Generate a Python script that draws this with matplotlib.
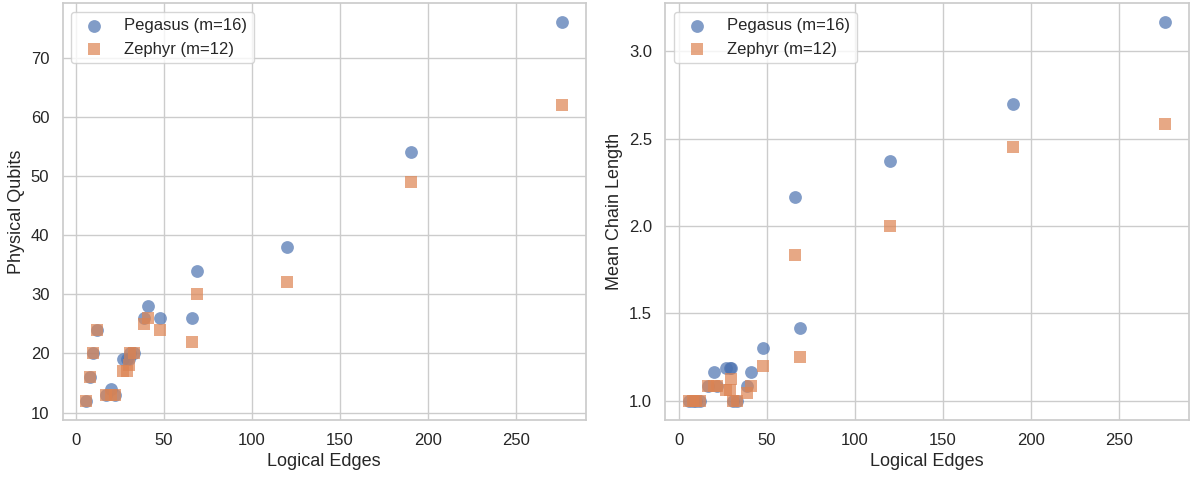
import numpy as np
import matplotlib.pyplot as plt
import seaborn as sns

sns.set_theme(style="whitegrid")
plt.rcParams['font.family'] = ['Liberation Sans', 'DejaVu Sans']

# logical graphs: edges, nodes
edges = [6, 8, 10, 12, 17, 20, 22, 27, 29, 30, 31, 33, 39, 41, 48, 66, 69, 120, 190, 276]
nodes = [12, 16, 20, 24, 12, 12, 12, 16, 16, 16, 20, 20, 24, 24, 20, 12, 24, 16, 20, 24]

# physical qubits after embedding
pegasus_qubits = [12, 16, 20, 24, 13, 14, 13, 19, 19, 19, 20, 20, 26, 28, 26, 26, 34, 38, 54, 76]
zephyr_qubits = [12, 16, 20, 24, 13, 13, 13, 17, 17, 18, 20, 20, 25, 26, 24, 22, 30, 32, 49, 62]

edges = np.array(edges)
nodes = np.array(nodes)
peg = np.array(pegasus_qubits)
zep = np.array(zephyr_qubits)

pal = sns.color_palette()
fig, (ax1, ax2) = plt.subplots(1, 2, figsize=(12.03, 4.79), dpi=100)

ax1.scatter(edges, peg, s=85, marker='o', color=pal[0], alpha=0.7, label='Pegasus (m=16)', linewidths=0)
ax1.scatter(edges, zep, s=85, marker='s', color=pal[1], alpha=0.7, label='Zephyr (m=12)', linewidths=0)
ax1.set_xlabel('Logical Edges', fontsize=13)
ax1.set_ylabel('Physical Qubits', fontsize=13)
ax1.legend(loc='upper left', fontsize=12)

ax2.scatter(edges, peg / nodes, s=85, marker='o', color=pal[0], alpha=0.7, label='Pegasus (m=16)', linewidths=0)
ax2.scatter(edges, zep / nodes, s=85, marker='s', color=pal[1], alpha=0.7, label='Zephyr (m=12)', linewidths=0)
ax2.set_xlabel('Logical Edges', fontsize=13)
ax2.set_ylabel('Mean Chain Length', fontsize=13)
ax2.legend(loc='upper left', fontsize=12)

for ax in (ax1, ax2):
    ax.tick_params(labelsize=12)

plt.subplots_adjust(left=0.052, right=0.988, top=0.993, bottom=0.124, wspace=0.152)
plt.savefig('out.png')
